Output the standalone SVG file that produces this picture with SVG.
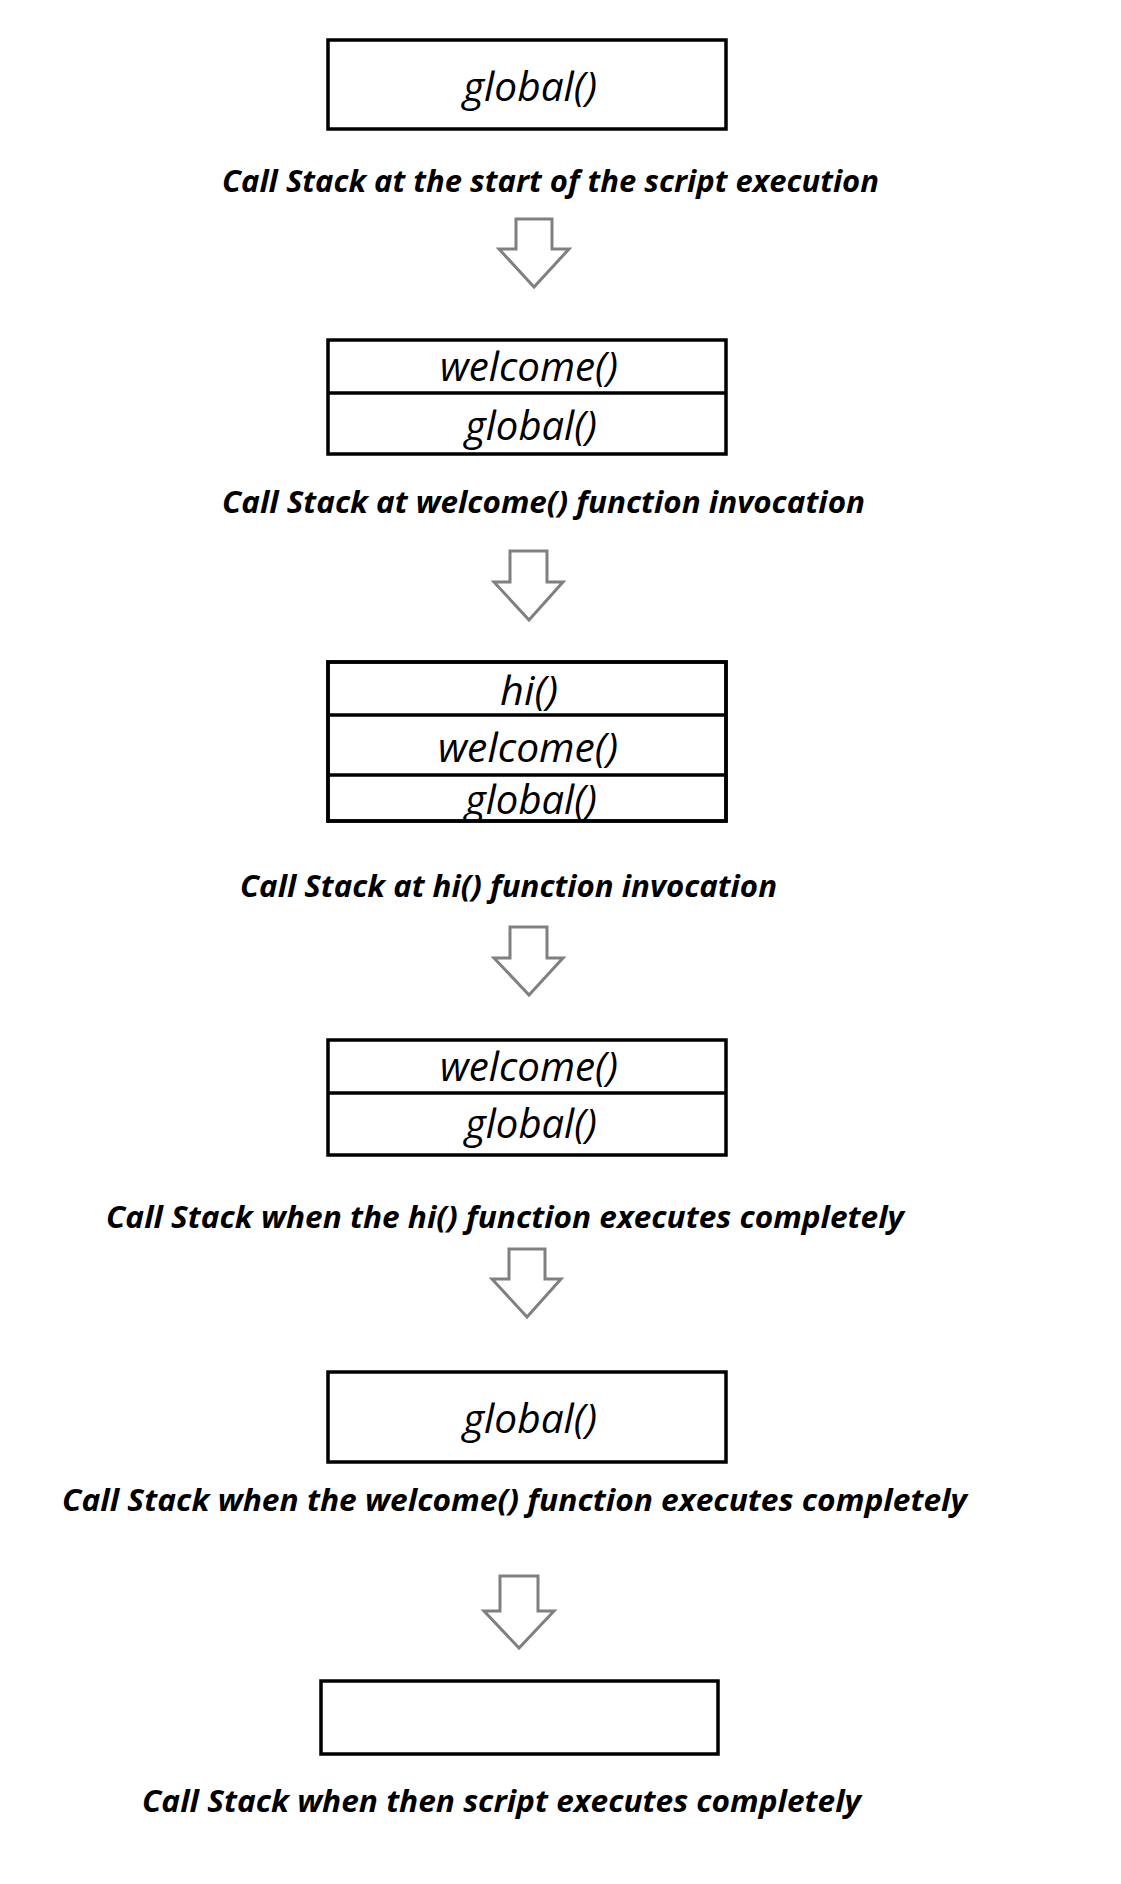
<svg xmlns="http://www.w3.org/2000/svg" width="1121" height="1884" viewBox="0 0 1121 1884">
<style>
.box{fill:#fff;stroke:#000;stroke-width:3.5}
.div{stroke:#000;stroke-width:3.5}
.lbl{font-family:"Open Sans","Noto Sans","DejaVu Sans",sans-serif;font-style:italic;font-weight:500;font-size:40px;fill:#000;text-anchor:middle}
.cap{font-family:"Open Sans","Noto Sans","DejaVu Sans",sans-serif;font-style:italic;font-weight:bold;font-size:31px;fill:#000}
.arr{fill:#fff;stroke:#808080;stroke-width:3;stroke-linejoin:miter}
</style>
<defs>
<clipPath id="c3"><rect x="329" y="776" width="397" height="44"/></clipPath>
</defs>
<rect width="1121" height="1884" fill="#fff"/>

<g id="connectors">
<path class="arr" d="M516,219 H552 V249 H569 L534,287 L499,249 H516 Z"/>
<path class="arr" d="M510,551 H547 V582 H563 L529,620 L494,582 H510 Z"/>
<path class="arr" d="M510,927 H547 V958 H563 L529,995 L494,958 H510 Z"/>
<path class="arr" d="M509,1249 H545 V1279 H561 L527,1317 L492,1279 H509 Z"/>
<path class="arr" d="M500,1576 H538 V1611 H554 L519,1648 L484,1611 H500 Z"/>
</g>

<g id="stack1">
<rect class="box" x="328" y="40" width="398" height="89"/>
<text class="lbl" x="530" y="101" textLength="134" lengthAdjust="spacingAndGlyphs">global()</text>
</g>
<g id="caption1"><text class="cap" x="222" y="192" textLength="657" lengthAdjust="spacingAndGlyphs">Call Stack at the start of the script execution</text></g>

<g id="stack2">
<rect class="box" x="328" y="340" width="398" height="114"/>
<line class="div" x1="328" y1="393" x2="726" y2="393"/>
<text class="lbl" x="529" y="381" textLength="178" lengthAdjust="spacingAndGlyphs">welcome()</text>
<text class="lbl" x="531" y="440" textLength="132" lengthAdjust="spacingAndGlyphs">global()</text>
</g>
<g id="caption2"><text class="cap" x="222" y="513" textLength="643" lengthAdjust="spacingAndGlyphs">Call Stack at welcome() function invocation</text></g>

<g id="stack3">
<rect class="box" x="328" y="662" width="398" height="159"/>
<line class="div" x1="328" y1="715" x2="726" y2="715"/>
<line class="div" x1="328" y1="775" x2="726" y2="775"/>
<text class="lbl" x="529" y="705" textLength="58" lengthAdjust="spacingAndGlyphs">hi()</text>
<text class="lbl" x="528" y="762" textLength="180" lengthAdjust="spacingAndGlyphs">welcome()</text>
<text class="lbl" x="531" y="814" textLength="132" lengthAdjust="spacingAndGlyphs" clip-path="url(#c3)">global()</text>
<rect x="328" y="662" width="398" height="159" fill="none" stroke="#000" stroke-width="3.5"/>
</g>
<g id="caption3"><text class="cap" x="240" y="897" textLength="537" lengthAdjust="spacingAndGlyphs">Call Stack at hi() function invocation</text></g>

<g id="stack4">
<rect class="box" x="328" y="1040" width="398" height="115"/>
<line class="div" x1="328" y1="1093" x2="726" y2="1093"/>
<text class="lbl" x="529" y="1081" textLength="178" lengthAdjust="spacingAndGlyphs">welcome()</text>
<text class="lbl" x="531" y="1138" textLength="132" lengthAdjust="spacingAndGlyphs">global()</text>
</g>
<g id="caption4"><text class="cap" x="106" y="1228" textLength="798" lengthAdjust="spacingAndGlyphs">Call Stack when the hi() function executes completely</text></g>

<g id="stack5">
<rect class="box" x="328" y="1372" width="398" height="90"/>
<text class="lbl" x="530" y="1433" textLength="134" lengthAdjust="spacingAndGlyphs">global()</text>
</g>
<g id="caption5"><text class="cap" x="62" y="1511" textLength="905" lengthAdjust="spacingAndGlyphs">Call Stack when the welcome() function executes completely</text></g>

<g id="stack6">
<rect class="box" x="321" y="1681" width="397" height="73"/>
</g>
<g id="caption6"><text class="cap" x="142" y="1812" textLength="719" lengthAdjust="spacingAndGlyphs">Call Stack when then script executes completely</text></g>
</svg>
